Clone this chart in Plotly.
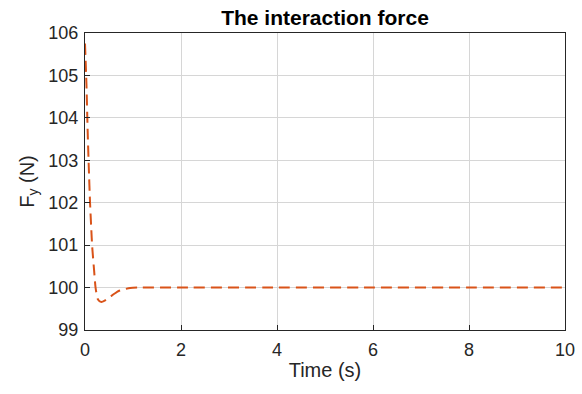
import plotly.graph_objects as go

time_s = [0.0, 0.03, 0.055, 0.08, 0.105, 0.13, 0.15, 0.19, 0.22, 0.27, 0.34, 0.42, 0.52, 0.62, 0.70, 0.82, 0.94, 1.1, 2.0, 4.0, 6.0, 8.0, 10.0]
force_y = [105.75, 104.8, 103.7, 102.8, 102.0, 101.4, 100.96, 100.4, 100.0, 99.72, 99.66, 99.7, 99.78, 99.86, 99.92, 99.96, 99.99, 100.0, 100.0, 100.0, 100.0, 100.0, 100.0]
x_ticks = [0, 2, 4, 6, 8, 10]
y_ticks = [99, 100, 101, 102, 103, 104, 105, 106]

FONT = "Arial, Liberation Sans, sans-serif"
W, H = 582, 394

fig = go.Figure()
fig.add_trace(go.Scatter(
    x=time_s, y=force_y, mode="lines",
    line=dict(color="#D95319", width=2, dash="11px,6px", shape="spline", smoothing=0.6),
    showlegend=False,
))

axis_common = dict(
    showline=True, linecolor="#262626", linewidth=1, mirror=True,
    showgrid=True, gridcolor="#D6D6D6", gridwidth=1,
    ticks="inside", ticklen=5, tickcolor="#262626",
    tickfont=dict(family=FONT, size=18, color="#262626"),
    zeroline=False, automargin=False,
)

fig.update_layout(
    width=W, height=H,
    margin=dict(l=85, r=17, t=33, b=64, autoexpand=False),
    paper_bgcolor="white", plot_bgcolor="white",
    title=dict(text="<b>The interaction force</b>", x=325 / W, xanchor="center", y=1 - 18 / H, yanchor="middle",
               font=dict(family=FONT, size=21, color="black")),
    xaxis=dict(range=[0, 10], tickvals=x_ticks, ticklabelstandoff=3,
               title=dict(text="Time (s)", font=dict(family=FONT, size=20, color="#262626"), standoff=4),
               **axis_common),
    yaxis=dict(range=[99, 106], tickvals=y_ticks, ticklabelstandoff=2,
               title=dict(text="F<sub>y</sub> (N)", font=dict(family=FONT, size=20, color="#262626"), standoff=8),
               **axis_common),
)

fig.write_html("out.html", config={"displayModeBar": False},
               post_script="document.body.style.margin='0';")
